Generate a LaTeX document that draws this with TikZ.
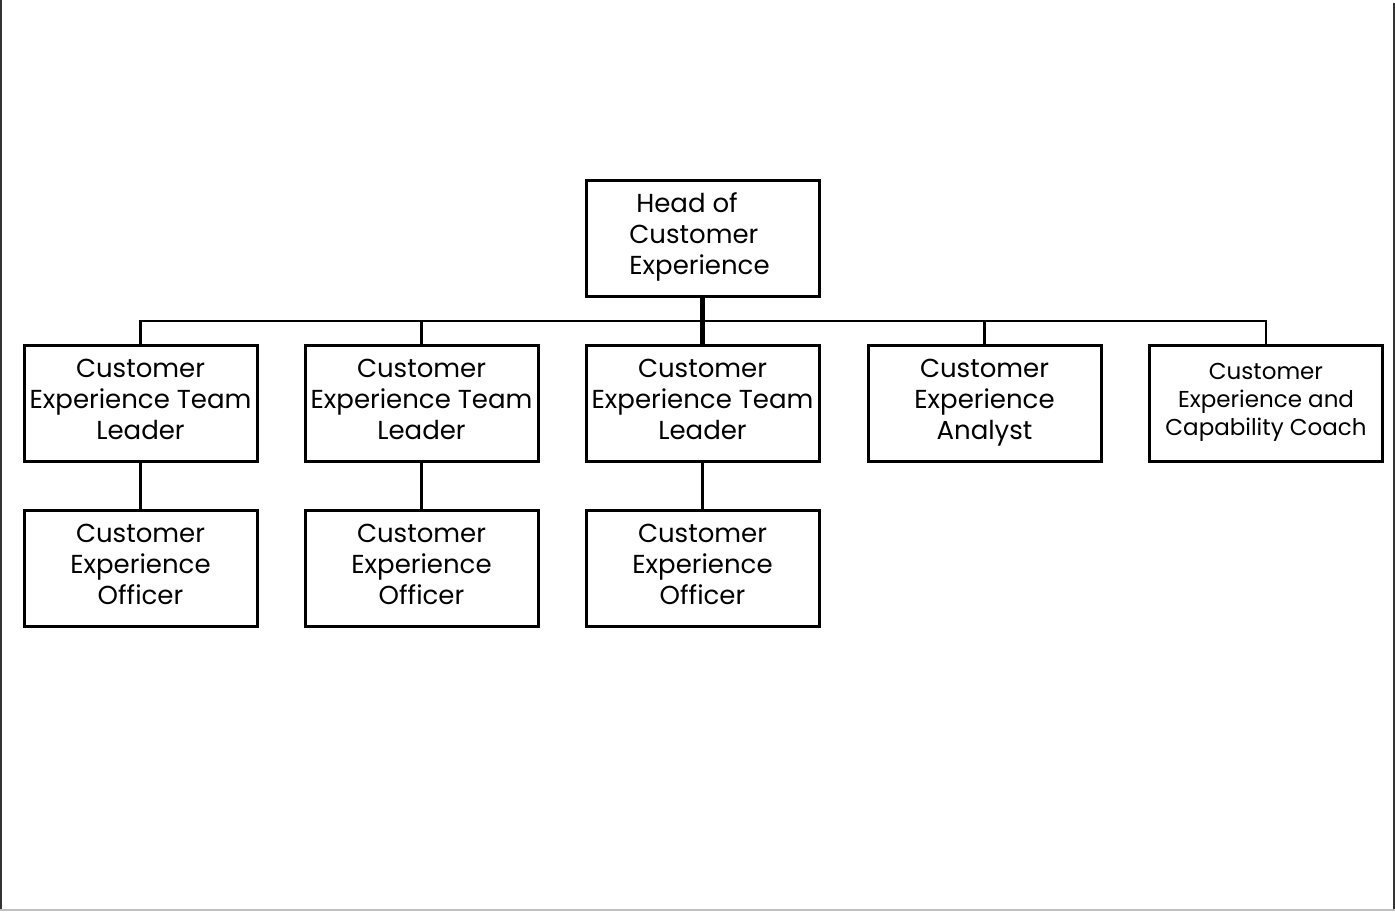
\documentclass[tikz,border=0pt]{standalone}
\usepackage{fontspec}
\setmainfont{Poppins}
\tikzset{
  role/.style={draw, line width=3pt, minimum width=233pt, minimum height=116pt,
    inner sep=0pt},
  rolename/.style={align=center, yshift=4pt, inner sep=0pt,
    font=\fontsize{26}{31}\selectfont},
  link/.style={line width=2.5pt},
  mainlink/.style={line width=5pt}
}
\begin{document}
\begin{tikzpicture}[x=1pt, y=-1pt]
    \useasboundingbox (0,0) rectangle (1395,911);
    % frame
    \draw[line width=2pt, black!80] (1,0) -- (1,911);
    \draw[line width=2pt, black!80] (1394,3) -- (1394,911);
    \draw[line width=1.5pt, black!25] (0,910) -- (1395,910);
    % head
    \node[role, label={[rolename, align=left, xshift=-3pt, yshift=-2pt]center:{\ Head of\\Customer\\Experience}}] (head) at (702.5, 238.5) {};
    % second row
    \node[role, label={[rolename]center:{Customer\\Experience Team\\Leader}}] (tl1) at (140.5, 403) {};
    \node[role, label={[rolename]center:{Customer\\Experience Team\\Leader}}] (tl2) at (421.5, 403) {};
    \node[role, label={[rolename]center:{Customer\\Experience Team\\Leader}}] (tl3) at (702.5, 403) {};
    \node[role, label={[rolename, yshift=-4pt]center:{Customer\\Experience\\Analyst}}] (an) at (984.5, 403) {};
    \node[role, label={[rolename, yshift=-3pt, font=\fontsize{23}{28}\selectfont]center:{Customer\\Experience and\\Capability Coach}}] (coach) at (1266, 403) {};
    % third row
    \node[role, label={[rolename]center:{Customer\\Experience\\Officer}}] (of1) at (140.5, 568) {};
    \node[role, label={[rolename]center:{Customer\\Experience\\Officer}}] (of2) at (421.5, 568) {};
    \node[role, label={[rolename]center:{Customer\\Experience\\Officer}}] (of3) at (702.5, 568) {};
    % connectors
    \coordinate (bus) at (0, 321);
    \draw[mainlink] (head.south) -- (tl3.north);
    \draw[link] (tl1.north) -- (tl1.north |- bus) -- (coach.north |- bus) -- (coach.north);
    \draw[link] (tl2.north) -- (tl2.north |- bus);
    \draw[link] (an.north) -- (an.north |- bus);
    \draw[link] (tl1.south) -- (of1.north);
    \draw[link] (tl2.south) -- (of2.north);
    \draw[link] (tl3.south) -- (of3.north);
\end{tikzpicture}
\end{document}
